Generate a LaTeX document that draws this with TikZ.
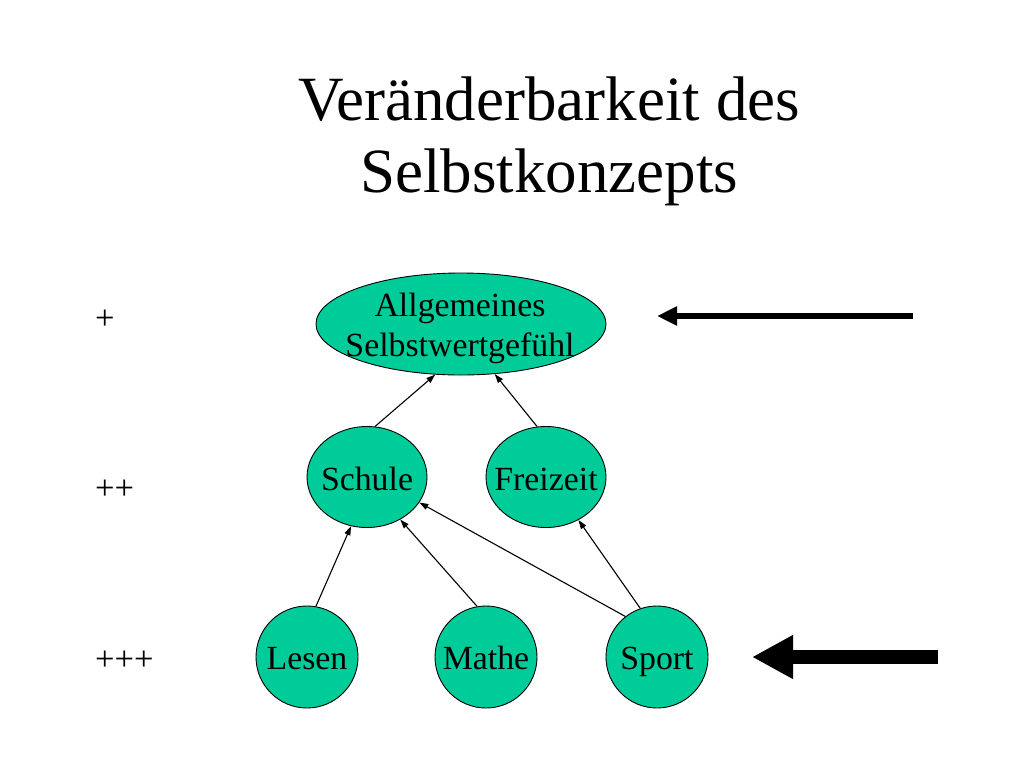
\documentclass[tikz,border=0pt]{standalone}
\usepackage{fontspec}
\setmainfont{Liberation Serif}
\usetikzlibrary{shapes.geometric,arrows.meta}
\definecolor{nodegreen}{RGB}{0,204,153}
\tikzset{
  bubble/.style={ellipse, draw=black, line width=0.9pt, fill=nodegreen, inner sep=0pt},
  lbl/.style={font=\fontsize{33.8}{40}\selectfont, inner sep=0pt, align=center},
  plus/.style={font=\fontsize{34.5}{40}\selectfont, inner sep=0pt},
  link/.style={line width=1.1pt, -{Triangle[length=9pt,width=6pt]}},
  titletext/.style={font=\fontsize{63}{72}\selectfont, inner sep=0pt, align=center},
}
\begin{document}
\begin{tikzpicture}[x=1pt,y=-1pt]
\useasboundingbox[fill=white] (0,0) rectangle (1024,768);

\node[titletext, anchor=north] (title) at (549,77) {Veränderbarkeit des\\Selbstkonzepts};

\node[bubble, minimum width=290pt, minimum height=102pt] (ell) at (461,324) {};
\node[lbl] (elltxt) at (460,328) {Allgemeines\\Selbstwertgefühl};

\node[bubble, minimum width=120pt, minimum height=101pt] (schule) at (367,477) {};
\node[lbl, anchor=base] (schuletxt) at (367,490) {Schule};
\node[bubble, minimum width=120pt, minimum height=101pt] (freizeit) at (546,477) {};
\node[lbl, anchor=base] (freizeittxt) at (546,490) {Freizeit};

\node[bubble, minimum width=102pt, minimum height=102pt] (lesen) at (307,657) {};
\node[lbl, anchor=base] (lesentxt) at (307,669) {Lesen};
\node[bubble, minimum width=102pt, minimum height=102pt] (mathe) at (486,657) {};
\node[lbl, anchor=base] (mathetxt) at (486,669) {Mathe};
\node[bubble, minimum width=102pt, minimum height=102pt] (sport) at (657,657) {};
\node[lbl, anchor=base] (sporttxt) at (657,669) {Sport};

\draw[link] (schule.81) -- (ell.243);
\draw[link] (freizeit.100) -- (ell.304);
\draw[link] (lesen.80) -- (schule.252);
\draw[link] (mathe.100) -- (schule.308);
\draw[link] (sport.128) -- (schule.334);
\draw[link] (sport.109) -- (freizeit.307);

\node[plus, anchor=base west] (p1) at (95,329) {+};
\node[plus, anchor=base west] (p2) at (95,499) {++};
\node[plus, anchor=base west] (p3) at (95,670) {+++};

\coordinate (a1s) at (913,316);
\coordinate (a1e) at (657,316);
\coordinate (a2s) at (938,657);
\coordinate (a2e) at (752,657);
\draw[line width=6pt, -{Triangle[length=20pt,width=18pt]}] (a1s) -- (a1e);
\draw[line width=14pt, -{Triangle[length=41pt,width=41pt]}] (a2s) -- (a2e);
\end{tikzpicture}
\end{document}
